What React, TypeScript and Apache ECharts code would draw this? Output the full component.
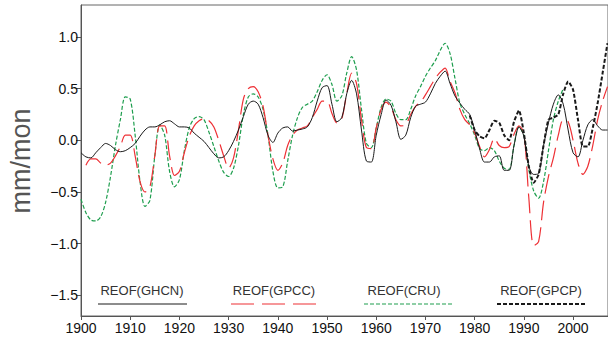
import React, { useEffect, useRef } from "react";
import * as echarts from "echarts";

const YEARS = [
  1900, 1901, 1902, 1903, 1904, 1905, 1906, 1907, 1908, 1909,
  1910, 1911, 1912, 1913, 1914, 1915, 1916, 1917, 1918, 1919,
  1920, 1921, 1922, 1923, 1924, 1925, 1926, 1927, 1928, 1929,
  1930, 1931, 1932, 1933, 1934, 1935, 1936, 1937, 1938, 1939,
  1940, 1941, 1942, 1943, 1944, 1945, 1946, 1947, 1948, 1949,
  1950, 1951, 1952, 1953, 1954, 1955, 1956, 1957, 1958, 1959,
  1960, 1961, 1962, 1963, 1964, 1965, 1966, 1967, 1968, 1969,
  1970, 1971, 1972, 1973, 1974, 1975, 1976, 1977, 1978, 1979,
  1980, 1981, 1982, 1983, 1984, 1985, 1986, 1987, 1988, 1989,
  1990, 1991, 1992, 1993, 1994, 1995, 1996, 1997, 1998, 1999,
  2000, 2001, 2002, 2003, 2004, 2005, 2006, 2007,
];

// REOF(GHCN) – black solid, 1900–2007
const GHCN = [
  -0.12, -0.16, -0.17, -0.12, -0.07, -0.03, -0.05, -0.09, -0.11, -0.10,
  -0.07, -0.03, 0.04, 0.10, 0.13, 0.13, 0.15, 0.18, 0.19, 0.16,
  0.13, 0.13, 0.12, 0.07, 0.03, -0.01, -0.07, -0.13, -0.17, -0.16,
  -0.10, -0.01, 0.10, 0.23, 0.35, 0.38, 0.35, 0.22, 0.05, -0.02,
  0.07, 0.12, 0.13, 0.09, 0.10, 0.11, 0.13, 0.22, 0.38, 0.51,
  0.53, 0.35, 0.18, 0.22, 0.45, 0.58, 0.45, 0.10, -0.20, -0.21,
  0.05, 0.25, 0.39, 0.34, 0.18, 0.01, 0.05, 0.22, 0.33, 0.35,
  0.37, 0.45, 0.55, 0.62, 0.67, 0.55, 0.43, 0.36, 0.30, 0.25,
  0.10, -0.08, -0.21, -0.21, -0.16, -0.15, -0.29, -0.29, -0.05, 0.13,
  0.04, -0.25, -0.33, -0.32, -0.05, 0.17, 0.35, 0.44, 0.35, 0.10,
  -0.12, -0.16, 0.00, 0.15, 0.20, 0.14, 0.10, 0.10,
];

// REOF(GPCC) – red long dashes, 1901–2007
const GPCC = [
  null, -0.24, -0.18, -0.18, -0.22, -0.24, -0.22, -0.15, -0.06, 0.05,
  0.05, -0.15, -0.40, -0.50, -0.45, -0.15, 0.14, 0.14, -0.15, -0.34,
  -0.30, -0.12, 0.04, 0.14, 0.19, 0.21, 0.19, 0.13, 0.00, -0.15,
  -0.27, -0.17, 0.10, 0.40, 0.50, 0.52, 0.47, 0.33, 0.05, -0.18,
  -0.29, -0.22, -0.05, 0.05, 0.10, 0.12, 0.14, 0.22, 0.30, 0.38,
  0.38, 0.26, 0.17, 0.21, 0.45, 0.65, 0.55, 0.20, -0.07, -0.08,
  0.12, 0.30, 0.37, 0.32, 0.20, 0.14, 0.15, 0.25, 0.33, 0.37,
  0.44, 0.52, 0.60, 0.66, 0.70, 0.57, 0.46, 0.30, 0.20, 0.15,
  0.07, -0.06, -0.16, -0.09, 0.02, -0.05, -0.07, -0.06, 0.06, 0.14,
  0.07, -0.55, -1.02, -0.98, -0.60, -0.35, -0.17, 0.05, 0.20, 0.18,
  0.00, -0.22, -0.33, -0.25, -0.05, 0.20, 0.38, 0.52,
];

// REOF(CRU) – green short dashes, 1900–1998
const CRU = [
  -0.57, -0.70, -0.77, -0.78, -0.74, -0.60, -0.35, -0.05, 0.20, 0.42,
  0.40, 0.05, -0.40, -0.64, -0.58, -0.15, 0.15, 0.05, -0.30, -0.45,
  -0.38, -0.10, 0.12, 0.21, 0.23, 0.20, 0.08, -0.06, -0.20, -0.31,
  -0.35, -0.27, -0.05, 0.25, 0.42, 0.45, 0.42, 0.30, 0.05, -0.30,
  -0.46, -0.45, -0.20, 0.05, 0.22, 0.32, 0.35, 0.38, 0.47, 0.58,
  0.635, 0.54, 0.38, 0.43, 0.65, 0.81, 0.68, 0.30, -0.03, -0.07,
  0.12, 0.32, 0.40, 0.38, 0.26, 0.20, 0.20, 0.30, 0.43, 0.52,
  0.62, 0.70, 0.77, 0.87, 0.94, 0.84, 0.60, 0.36, 0.25, 0.16,
  0.05, -0.08, -0.10, -0.07, -0.10, -0.20, -0.27, -0.28, -0.05, 0.13,
  0.05, -0.28, -0.49, -0.56, -0.40, -0.10, 0.20, 0.38, 0.50, null,
  null, null, null, null, null, null, null, null,
];

// REOF(GPCP) – black thick short dashes, 1979–2007
const GPCP = [
  null, null, null, null, null, null, null, null, null, null,
  null, null, null, null, null, null, null, null, null, null,
  null, null, null, null, null, null, null, null, null, null,
  null, null, null, null, null, null, null, null, null, null,
  null, null, null, null, null, null, null, null, null, null,
  null, null, null, null, null, null, null, null, null, null,
  null, null, null, null, null, null, null, null, null, null,
  null, null, null, null, null, null, null, null, null, 0.24,
  0.10, 0.04, 0.02, 0.10, 0.19, 0.17, 0.05, 0.00, 0.18, 0.29,
  0.07, -0.25, -0.41, -0.33, -0.05, 0.20, 0.22, 0.25, 0.45, 0.57,
  0.49, 0.20, -0.06, -0.06, 0.12, 0.36, 0.65, 0.94,
];

const Y_TICKS = [-1.5, -1.0, -0.5, 0.0, 0.5, 1.0];
const LEGEND_NAMES = ["REOF(GHCN)", "REOF(GPCC)", "REOF(CRU)", "REOF(GPCP)"];

const RED = "#ee3035";
const GREEN = "#1e9e4e";
const BLACK = "#1a1a1a";

function pairs(vals: (number | null)[]) {
  const out: [number, number][] = [];
  vals.forEach((v, i) => {
    if (v !== null && v !== undefined) out.push([YEARS[i], v]);
  });
  return out;
}

export default function App() {
  const ref = useRef<HTMLDivElement>(null);
  useEffect(() => {
    if (!ref.current) return;
    const chart = echarts.init(ref.current, undefined, { renderer: "svg" });
    const font = "Liberation Sans";
    const legendTop = 284;
    const lineY = 304;
    const legendText = (x: number, t: string) => ({
      type: "text",
      x,
      y: legendTop,
      z: 100,
      style: {
        text: t,
        fontSize: 13,
        fontFamily: font,
        fill: "#333",
        align: "center",
        verticalAlign: "top",
      },
    });
    const legendLine = (x1: number, x2: number, stroke: string, lw: number, dash?: number[]) => ({
      type: "polyline",
      z: 100,
      shape: { points: [[x1, lineY], [x2, lineY]] },
      style: { stroke, fill: null, lineWidth: lw, lineDash: dash || null },
    });
    chart.setOption({
      animation: false,
      grid: {
        left: 81,
        top: 5,
        right: -2,
        bottom: 22,
        show: true,
        borderColor: "#666",
        borderWidth: 1,
      },
      xAxis: {
        type: "value",
        min: 1900,
        max: 2007.1,
        interval: 10,
        axisLine: { show: true, onZero: false, lineStyle: { color: "#555", width: 1 } },
        axisTick: { show: true, inside: false, length: 4, lineStyle: { color: "#555" } },
        axisLabel: {
          margin: 5,
          fontSize: 14,
          fontFamily: font,
          color: "#111",
          showMaxLabel: false,
          formatter: (v: number) => (Math.abs(v % 10) < 1e-6 ? String(v) : ""),
        },
        splitLine: { show: false },
      },
      yAxis: {
        type: "value",
        min: -1.7,
        max: 1.31,
        axisLine: { show: true, onZero: false, lineStyle: { color: "#555", width: 1 } },
        axisTick: {
          show: true,
          length: 5,
          lineStyle: { color: "#555" },
          customValues: Y_TICKS,
        },
        axisLabel: {
          margin: 3,
          fontSize: 14,
          fontFamily: font,
          color: "#111",
          customValues: Y_TICKS,
          formatter: (v: number) => v.toFixed(1).replace("-", "\u2212"),
        },
        splitLine: { show: false },
      },
      graphic: [
        {
          type: "text",
          x: 21,
          y: 161,
          rotation: Math.PI / 2,
          style: {
            text: "mm/mon",
            fontSize: 27,
            fontFamily: font,
            fill: "#555",
            align: "center",
            verticalAlign: "middle",
          },
        },
        legendText(142, LEGEND_NAMES[0]),
        legendLine(98, 187, BLACK, 1),
        legendText(274, LEGEND_NAMES[1]),
        legendLine(231, 316, RED, 1.2, [23, 8]),
        legendText(404, LEGEND_NAMES[2]),
        legendLine(364, 453, GREEN, 1.2, [4, 2]),
        legendText(541, LEGEND_NAMES[3]),
        legendLine(497, 586, BLACK, 2, [4, 2]),
      ],
      series: [
        {
          name: LEGEND_NAMES[2],
          type: "line",
          data: pairs(CRU),
          symbol: "none",
          smooth: 0.3,
          lineStyle: { color: GREEN, width: 1.2, type: [4, 2] },
        },
        {
          name: LEGEND_NAMES[1],
          type: "line",
          data: pairs(GPCC),
          symbol: "none",
          smooth: 0.3,
          lineStyle: { color: RED, width: 1.2, type: [20, 7] },
        },
        {
          name: LEGEND_NAMES[0],
          type: "line",
          data: pairs(GHCN),
          symbol: "none",
          smooth: 0.3,
          lineStyle: { color: BLACK, width: 1 },
        },
        {
          name: LEGEND_NAMES[3],
          type: "line",
          data: pairs(GPCP),
          symbol: "none",
          smooth: 0.2,
          lineStyle: { color: BLACK, width: 2, type: [4, 2] },
        },
      ],
    });
    return () => chart.dispose();
  }, []);
  return (
    <div
      ref={ref}
      style={{ position: "fixed", left: 0, top: 0, width: 608, height: 338, background: "#fff" }}
    />
  );
}
